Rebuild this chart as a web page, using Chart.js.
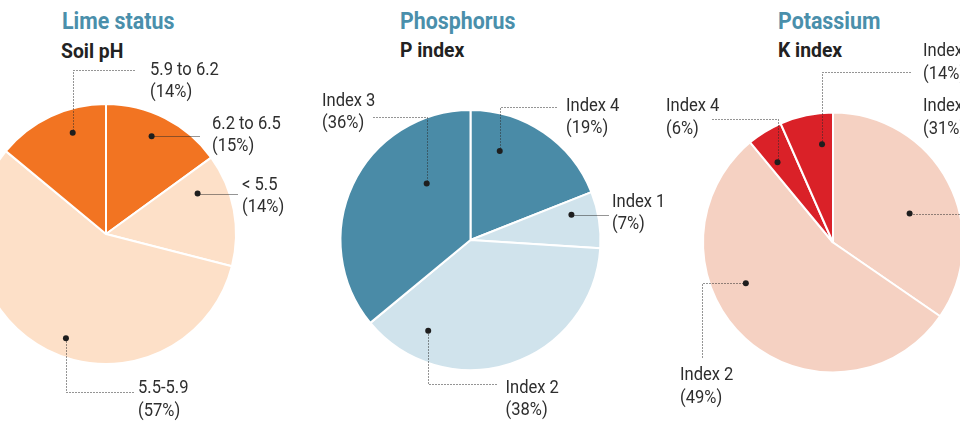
<!DOCTYPE html>
<html>
<head>
<meta charset="utf-8">
<script src="https://cdn.jsdelivr.net/npm/chart.js@4.4.0/dist/chart.umd.min.js"></script>
<style>
  html, body { margin: 0; padding: 0; background: #fff; }
  body { width: 960px; height: 421px; position: relative; overflow: hidden;
         font-family: "Liberation Sans Narrow", "Arial Narrow", "Roboto", sans-serif; }
  canvas { position: absolute; top: 0; }
  .title { position: absolute; font-weight: bold; color: #4a8fab; font-size: 24px; line-height: 24px;
           white-space: nowrap; transform: scaleX(0.89); transform-origin: 0 0; }
  .sub { position: absolute; font-weight: bold; color: #222; font-size: 21px; line-height: 21px;
         white-space: nowrap; transform: scaleX(0.92); transform-origin: 0 0; }
</style>
</head>
<body>
<div class="title" style="left:62px;top:9px">Lime status</div>
<div class="sub" style="left:61px;top:41px">Soil pH</div>
<div class="title" style="left:400px;top:9px">Phosphorus</div>
<div class="sub" style="left:400px;top:40px">P index</div>
<div class="title" style="left:778px;top:9px">Potassium</div>
<div class="sub" style="left:778px;top:40px">K index</div>

<canvas id="lime" width="420" height="421"></canvas>
<canvas id="phos" width="420" height="421"></canvas>
<canvas id="pot" width="420" height="421"></canvas>

<script>
// Slices go clockwise from 12 o'clock
const limeLabels = ['6.2 to 6.5', '< 5.5', '5.5-5.9', '5.9 to 6.2'];
const limeValues = [15, 14, 57, 14];
const limeColors = ['#f27422', '#fde0c8', '#fde0c8', '#f27422'];

const phosLabels = ['Index 4', 'Index 1', 'Index 2', 'Index 3'];
const phosValues = [19, 7, 38, 36];
const phosColors = ['#4a8ba7', '#d0e3ec', '#d0e3ec', '#4a8ba7'];

const potLabels = ['Index 1', 'Index 2', 'Index 4', 'Index 3'];
const potValues = [34.6, 54.4, 4.4, 6.6];   // slice sizes as drawn in the picture
const potPrinted = [31, 49, 6, 14];         // percentages printed next to them
const potColors = ['#f5d1c2', '#f5d1c2', '#da2128', '#da2128'];

// callout layout, relative to the pie centre:
// da = dot angle offset from slice middle (deg), f = dot radius fraction,
// path = elbows of the leader, tx/ty = text left / first baseline
const limeCallouts = [
  { da: -2, f: 0.83, path: [['h', 94]], tx: 106, ty: -105.5, dense: true },
  { da: -13, f: 0.77, path: [['h', 132]], tx: 136, ty: -44.5, dense: true },
  { da: -6, f: 0.86, path: [['v', 158], ['h', 29]], tx: 32, ty: 159 },
  { da: 7, f: 0.82, path: [['v', -164], ['h', 30]], tx: 44, ty: -159.5 }
];
const phosCallouts = [
  { da: -16, f: 0.72, path: [['v', -133], ['h', 86]], tx: 95.5, ty: -129.5 },
  { da: -5, f: 0.80, path: [['h', 137]], tx: 141.5, ty: -33.5, dense: true },
  { da: 43, f: 0.77, path: [['v', 144], ['h', 26]], tx: 35, ty: 152.5 },
  { da: 27, f: 0.55, path: [['v', -123], ['h', -97.5]], tx: -148.5, ty: -134.5 }
];
const potCallouts = [
  { da: 7, f: 0.63, path: [['h', 140], ['v', -115]], tx: 90, ty: -131.5 },
  { da: 22.5, f: 0.74, path: [['h', -131], ['v', 114.7]], tx: -153, ty: 137.8 },
  { da: -3, f: 0.75, path: [['v', -123.7], ['h', -123]], tx: -167, ty: -131.5 },
  { da: 5.5, f: 0.76, path: [['v', -171], ['h', 79]], tx: 90, ty: -186.2 }
];

const R = 131;
const LABEL_FONT = '18px "Liberation Sans Narrow", "Arial Narrow", Roboto, sans-serif';
const LABEL_SQUEEZE = 0.92;

const calloutPlugin = {
  id: 'callouts',
  afterDatasetsDraw(chart, args, opts) {
    const ctx = chart.ctx;
    const meta = chart.getDatasetMeta(0);
    opts.items.forEach((c, i) => {
      const arc = meta.data[i];
      const a = (arc.startAngle + arc.endAngle) / 2 + c.da * Math.PI / 180;
      const r = arc.outerRadius * c.f;
      let x = arc.x + Math.cos(a) * r;
      let y = arc.y + Math.sin(a) * r;
      const dotX = x, dotY = y;

      ctx.save();
      ctx.strokeStyle = '#2a2a2a';
      ctx.lineWidth = 1;
      ctx.setLineDash(c.dense ? [1, 1] : [1, 2]);
      ctx.beginPath();
      ctx.moveTo(Math.round(x) + 0.5, Math.round(y) + 0.5);
      c.path.forEach(([dir, v]) => {
        if (dir === 'h') x = arc.x + v; else y = arc.y + v;
        ctx.lineTo(Math.round(x) + 0.5, Math.round(y) + 0.5);
      });
      ctx.stroke();
      ctx.setLineDash([]);

      ctx.fillStyle = '#1e1e1e';
      ctx.beginPath();
      ctx.arc(dotX, dotY, 3, 0, Math.PI * 2);
      ctx.fill();

      ctx.fillStyle = '#2e2e2e';
      ctx.font = LABEL_FONT;
      ctx.textBaseline = 'alphabetic';
      ctx.textAlign = 'left';
      ctx.translate(arc.x + c.tx, arc.y + c.ty);
      ctx.scale(LABEL_SQUEEZE, 1);
      ctx.fillText(opts.labels[i], 0, 0);
      ctx.fillText('(' + opts.printed[i] + '%)', 0, 22.5);
      ctx.restore();
    });
  }
};

function makePie(id, cx, cy, labels, values, colors, printed, callouts) {
  const canvas = document.getElementById(id);
  const left = Math.round(cx) - 210;
  canvas.style.left = left + 'px';
  const px = cx - left;
  new Chart(canvas.getContext('2d'), {
    type: 'pie',
    data: {
      labels: labels,
      datasets: [{
        data: values,
        backgroundColor: colors,
        borderColor: '#ffffff',
        borderWidth: 2
      }]
    },
    options: {
      responsive: false,
      animation: false,
      events: [],
      layout: {
        padding: { left: px - R, right: 420 - px - R, top: cy - R, bottom: 421 - cy - R }
      },
      plugins: {
        legend: { display: false },
        tooltip: { enabled: false },
        callouts: { items: callouts, labels: labels, printed: printed }
      }
    },
    plugins: [calloutPlugin]
  });
}

makePie('lime', 106, 234, limeLabels, limeValues, limeColors, limeValues, limeCallouts);
makePie('phos', 470.5, 240, phosLabels, phosValues, phosColors, phosValues, phosCallouts);
makePie('pot', 833, 242.5, potLabels, potValues, potColors, potPrinted, potCallouts);
</script>
</body>
</html>
